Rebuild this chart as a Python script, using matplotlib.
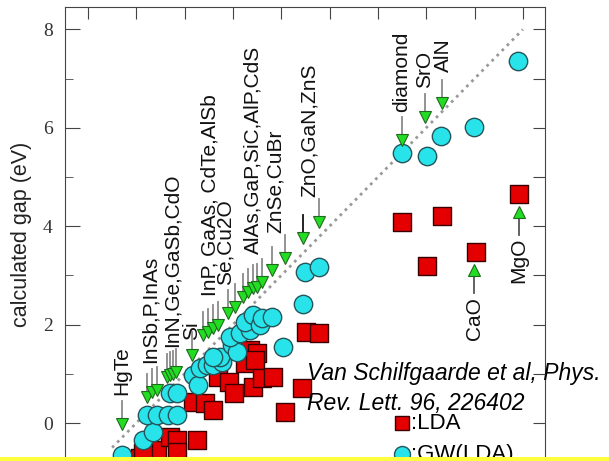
import matplotlib
matplotlib.use("Agg")
import matplotlib.pyplot as plt
from matplotlib.patches import Rectangle

# GW(LDA) gaps: experimental (x) vs calculated (y)
gw_x = [-0.30, 0.14, 0.35, 0.22, 0.43, 0.66, 0.84, 0.70, 0.84, 1.17, 1.28, 1.32,
        1.46, 1.59, 1.77, 1.73, 1.59, 1.98, 2.08, 1.94, 2.15, 2.35, 2.25, 2.41,
        2.56, 2.60, 2.81, 3.04, 3.45, 3.49, 3.78, 5.50, 6.01, 6.30, 6.99, 7.90]
gw_y = [-0.65, -0.35, -0.18, 0.16, 0.16, 0.16, 0.16, 0.61, 0.61, 0.98, 0.77, 1.12,
        1.18, 1.18, 1.24, 1.34, 1.34, 1.59, 1.44, 1.75, 1.83, 1.89, 2.05, 2.20,
        1.99, 2.13, 2.15, 1.54, 2.42, 3.07, 3.17, 5.49, 5.43, 5.83, 6.02, 7.36]

# LDA gaps
lda_x = [0.08, 0.43, 0.70, 0.84, 0.84, 0.14, 1.26, 1.17, 1.42, 1.59, 1.69, 1.92,
         2.02, 2.35, 2.50, 2.25, 2.46, 2.41, 2.60, 2.83, 3.43, 3.07, 3.51, 3.78,
         5.50, 6.33, 6.01, 7.03, 7.92]
lda_y = [-0.71, -0.55, -0.28, -0.35, -0.59, -0.61, -0.35, 0.43, 0.41, 0.26, 0.93, 0.83,
         0.61, 1.48, 1.42, 1.22, 1.28, 0.73, 0.91, 0.93, 0.71, 0.22, 1.85, 1.83,
         4.09, 4.21, 3.19, 3.48, 4.65]

# arrows pointing down onto the diagonal (x = experimental gap, tip height)
down_x = [-0.30, 0.22, 0.32, 0.43, 0.64, 0.70, 0.76, 0.82, 1.15,
          1.38, 1.49, 1.59, 1.69, 1.90, 2.04,
          2.21, 2.31, 2.41, 2.50, 2.60, 2.81, 3.08,
          3.45, 3.78, 5.50, 5.98, 6.33]
down_tip = [-0.12, 0.43, 0.53, 0.57, 0.83, 0.87, 0.90, 0.93, 1.28,
            1.69, 1.75, 1.83, 1.89, 2.13, 2.26,
            2.46, 2.56, 2.64, 2.66, 2.76, 3.01, 3.25,
            3.66, 3.98, 5.65, 6.12, 6.40]
down_dark = [3.45]

# arrows pointing up (CaO, MgO)
up_x = [6.99, 7.92]
up_tip = [3.21, 4.39]

# compound labels
labels_top = ["HgTe", "InSb,P,InAs", "InN,Ge,GaSb,CdO", "Si",
              "InP, GaAs, CdTe,AlSb", "Se,Cu2O", "AlAs,GaP,SiC,AlP,CdS",
              "ZnSe,CuBr", "ZnO,GaN,ZnS", "diamond", "SrO", "AlN"]
labels_top_x = [-0.30, 0.29, 0.74, 1.15, 1.52, 1.84, 2.41, 2.87, 3.59, 5.50, 5.96, 6.36]
labels_top_y = [0.57, 1.22, 1.54, 1.69, 2.58, 2.80, 3.43, 3.86, 4.59, 6.32, 6.81, 7.13]

labels_bot = ["CaO", "MgO"]
labels_bot_x = [6.99, 7.92]
labels_bot_y = [2.56, 3.76]

plt.rcParams['font.family'] = ['Liberation Sans', 'DejaVu Sans']

fig = plt.figure(figsize=(6.09, 4.61), dpi=100)
ax = fig.add_axes([65 / 609, 0, 480 / 609, 454 / 461])
ax.set_xlim(-1.475, 8.457)
ax.set_ylim(-0.772, 8.455)

frame = '#444444'
for s in ['left', 'right', 'top']:
    ax.spines[s].set_color(frame)
ax.spines['bottom'].set_visible(False)

# diagonal y = x
ax.plot([-0.5, 8.0], [-0.5, 8.0], linestyle=(0, (1, 1.6)), color='#999999',
        linewidth=2.0, zorder=1)

ax.scatter(lda_x, lda_y, marker='s', s=150, color='#e40000',
           edgecolor='#3a0000', linewidth=1.0, zorder=3)
ax.scatter(gw_x, gw_y, marker='o', s=175, color='#28e4ea',
           edgecolor='#24555a', linewidth=1.0, zorder=4)

shaft = 0.57
head = 0.21
for x, t in zip(down_x, down_tip):
    c = '#111111' if x in down_dark else '#8a8a8a'
    ax.plot([x, x], [t + head, t + shaft], color=c, linewidth=1.3, zorder=5)
    ax.plot([x], [t + head / 2], marker='v', markersize=8, color='#22dd22',
            markeredgecolor='#1f6a1f', markeredgewidth=0.8, zorder=6)
for x, t in zip(up_x, up_tip):
    ax.plot([x, x], [t - head, t - shaft], color='#555555', linewidth=1.3, zorder=5)
    ax.plot([x], [t - head / 2], marker='^', markersize=8, color='#22dd22',
            markeredgecolor='#1f6a1f', markeredgewidth=0.8, zorder=6)

for txt, x, y in zip(labels_top, labels_top_x, labels_top_y):
    ax.text(x, y, txt, rotation=90, ha='center', va='bottom', fontsize=15,
            color='#111111', zorder=7)
for txt, x, y in zip(labels_bot, labels_bot_x, labels_bot_y):
    ax.text(x, y, txt, rotation=90, ha='center', va='top', fontsize=15,
            color='#111111', zorder=7)

# citation and legend-like key
ax.text(3.53, 0.87, "Van Schilfgaarde et al, Phys.", fontsize=16.5, style='italic',
        va='baseline', ha='left', zorder=8, clip_on=False)
ax.text(3.53, 0.27, "Rev. Lett. 96, 226402", fontsize=16.5, style='italic',
        va='baseline', ha='left', zorder=8)
ax.plot([5.50], [0.0], marker='s', markersize=10.5, color='#e40000',
        markeredgecolor='#3a0000', zorder=8)
ax.text(5.68, 0.0, ":LDA", fontsize=16, va='center', ha='left', zorder=8)
ax.plot([5.50], [-0.63], marker='o', markersize=11.5, color='#28e4ea',
        markeredgecolor='#24555a', zorder=8)
ax.text(5.68, -0.63, ":GW(LDA)", fontsize=16, va='center', ha='left', zorder=8)

# ticks
ax.set_xticks(range(-1, 9))
ax.xaxis.set_ticks_position('top')
ax.tick_params(axis='x', direction='in', length=8.5, color=frame,
               labeltop=False, labelbottom=False)
ax.set_yticks([0, 2, 4, 6, 8])
ax.set_yticks([1, 3, 5, 7], minor=True)
ax.tick_params(axis='y', which='major', direction='in', length=11, color=frame,
               pad=9, labelsize=14, right=False)
ax.tick_params(axis='y', which='minor', direction='in', length=6, color=frame,
               right=False)
for lab in ax.get_yticklabels():
    lab.set_fontfamily('Liberation Serif')
    lab.set_color('#333333')
ax.set_ylabel("calculated gap (eV)", fontsize=15.5, labelpad=8, color='#222222')

ax2 = ax.twinx()
ax2.set_ylim(ax.get_ylim())
ax2.set_yticks(range(0, 9))
ax2.tick_params(axis='y', direction='in', length=8.5, color=frame, labelright=False)
for s in ax2.spines.values():
    s.set_visible(False)

# yellow strip along the bottom edge
fig.patches.append(Rectangle((0, 0), 1, 4 / 461, transform=fig.transFigure,
                             facecolor='#ffff3c', edgecolor='none', zorder=10))

fig.savefig("out.png", dpi=100)
